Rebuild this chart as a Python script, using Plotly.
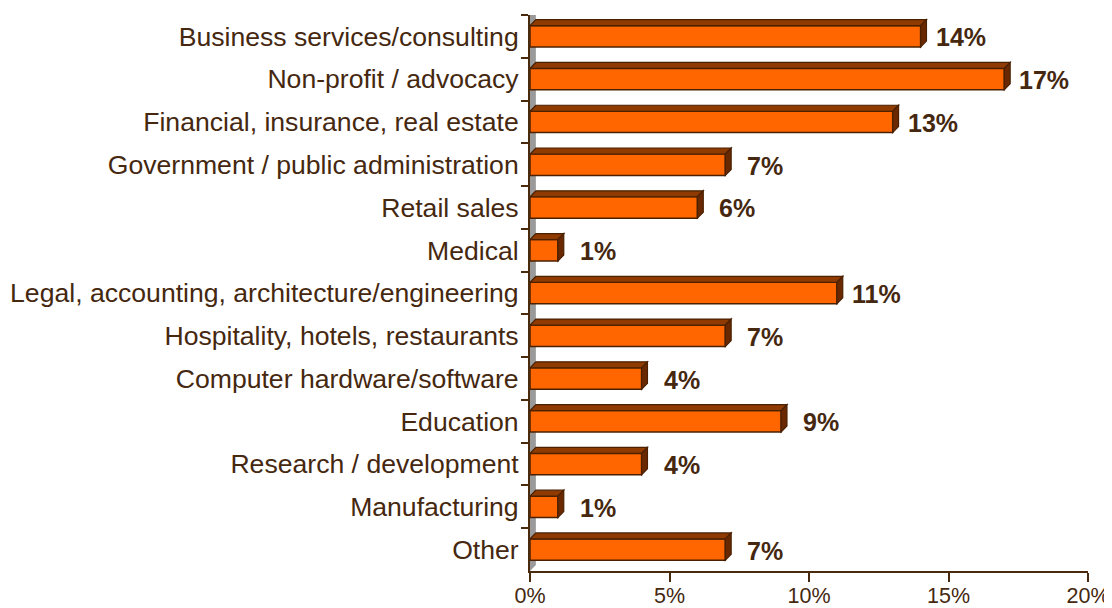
import plotly.graph_objects as go

categories = [
    "Business services/consulting",
    "Non-profit / advocacy",
    "Financial, insurance, real estate",
    "Government / public administration",
    "Retail sales",
    "Medical",
    "Legal, accounting, architecture/engineering",
    "Hospitality, hotels, restaurants",
    "Computer hardware/software",
    "Education",
    "Research / development",
    "Manufacturing",
    "Other",
]
values = [14, 17, 13, 7, 6, 1, 11, 7, 4, 9, 4, 1, 7]
value_labels = ["14%", "17%", "13%", "7%", "6%", "1%", "11%", "7%", "4%", "9%", "4%", "1%", "7%"]
x_tickvals = [0, 5, 10, 15, 20]
x_ticktext = ["0%", "5%", "10%", "15%", "20%"]

TEXT = "#45280f"
AXIS = "#4a2a0c"
FRONT = "#ff6600"
TOP = "#8f3a00"
SIDE = "#6a2800"
EDGE = "#4a2000"
BAR_W = 0.5
DX = 0.21   # depth in x data units
DY = 0.14   # depth in category units

fig = go.Figure()
fig.add_trace(go.Bar(
    x=values, y=categories, orientation="h", width=BAR_W,
    marker=dict(color=FRONT, line=dict(color=EDGE, width=1.5)),
    hoverinfo="skip",
))

shapes = []
n = len(categories)
# back wall (gray strip)
shapes.append(dict(type="path", xref="x", yref="y", layer="below",
                   path=f"M 0 {n-0.5} L 0 -0.5 L {DX} {-0.5-DY} L {DX} {n-0.5-DY} Z",
                   fillcolor="#9a9a9a", line=dict(width=0)))
for i, v in enumerate(values):
    yt = i - BAR_W / 2
    yb = i + BAR_W / 2
    # top face
    shapes.append(dict(type="path", xref="x", yref="y", layer="above",
                       path=f"M 0 {yt} L {v} {yt} L {v+DX} {yt-DY} L {DX} {yt-DY} Z",
                       fillcolor=TOP, line=dict(color=EDGE, width=1.2)))
    # side face
    shapes.append(dict(type="path", xref="x", yref="y", layer="above",
                       path=f"M {v} {yt} L {v} {yb} L {v+DX} {yb-DY} L {v+DX} {yt-DY} Z",
                       fillcolor=SIDE, line=dict(color=EDGE, width=1.2)))

annotations = []
for c, v, t in zip(categories, values, value_labels):
    annotations.append(dict(x=v, y=c, xref="x", yref="y", text=t, showarrow=False,
                            xanchor="center", yanchor="middle", xshift=40, yshift=-1,
                            font=dict(family="Liberation Sans, Arial", size=25, color=TEXT, weight="bold")))

fig.update_layout(
    width=1104, height=600,
    margin=dict(l=522, r=24, t=7, b=37),
    paper_bgcolor="white", plot_bgcolor="white",
    showlegend=False, bargap=0.5,
    font=dict(family="Liberation Sans, Arial", color=TEXT),
    shapes=shapes, annotations=annotations,
    xaxis=dict(range=[0, 20], tickvals=x_tickvals, ticktext=x_ticktext, automargin=False,
               showgrid=False, zeroline=False, showline=True, linecolor=AXIS, linewidth=2,
               ticks="outside", ticklen=9, tickwidth=2, tickcolor=AXIS,
               ticklabelstandoff=-5,
               tickfont=dict(size=21.5, color=TEXT)),
    yaxis=dict(type="category", categoryorder="array", categoryarray=categories,
               range=[n - 0.5, -0.5], tickson="boundaries", automargin=False,
               showgrid=False, zeroline=False, showline=True, linecolor=AXIS, linewidth=2,
               ticks="outside", ticklen=7, tickwidth=2, tickcolor=AXIS,
               ticklabelstandoff=4,
               tickfont=dict(size=26.6, color=TEXT)),
)

fig.write_html("out.html")
